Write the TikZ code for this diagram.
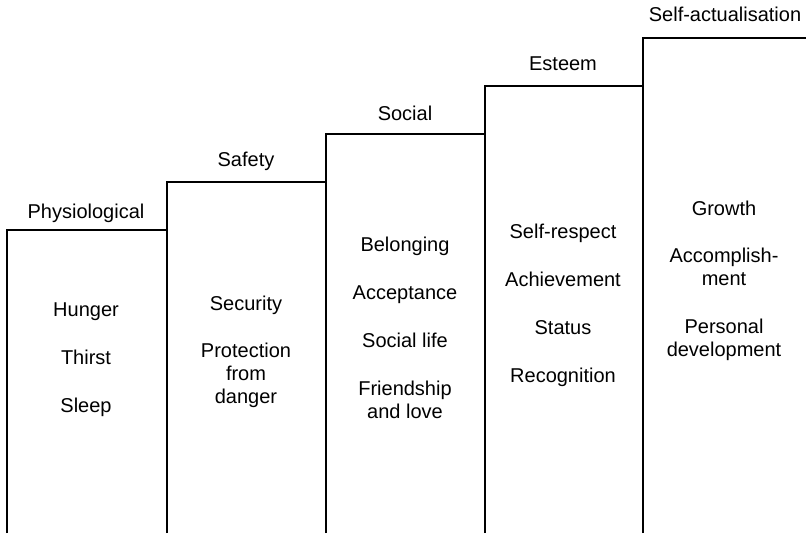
\documentclass[tikz,border=0pt]{standalone}
\usepackage{fontspec}
\setmainfont{Liberation Sans}
\begin{document}
\begin{tikzpicture}[x=0.75pt,y=-0.75pt,
  txt/.style={font=\fontsize{15}{17.25}\selectfont, align=center, inner sep=0pt,
    execute at begin node=\strut, execute at end node=\strut},
  stair/.style={line width=1pt, line join=miter}]
\useasboundingbox (0,0) rectangle (806,533);
% staircase outline
\draw[stair] (7,533) -- (7,230) -- (167,230) -- (167,182) -- (326,182) -- (326,134)
  -- (485,134) -- (485,86) -- (643,86) -- (643,38) -- (806,38);
\foreach \x/\t in {167/230,326/182,485/134,643/86}
  \draw[stair] (\x,533) -- (\x,\t);
% level labels
\node[txt] (l1) at (86,213.9) {Physiological};
\node[txt] (l2) at (246,161.4) {Safety};
\node[txt] (l3) at (405,115.4) {Social};
\node[txt] (l4) at (563,66.2) {Esteem};
\node[txt] (l5) at (725,17.1) {Self-actualisation};
% column 1
\node[txt] (a1) at (86,311.4) {Hunger};
\node[txt] (a2) at (86,359.4) {Thirst};
\node[txt] (a3) at (86,407.4) {Sleep};
% column 2
\node[txt] (b1) at (246,305.4) {Security};
\node[txt] (b2) at (246,376.6) {Protection\\from\\danger};
% column 3
\node[txt] (c1) at (405,247) {Belonging};
\node[txt] (c2) at (405,294.7) {Acceptance};
\node[txt] (c3) at (405,342.5) {Social life};
\node[txt] (c4) at (405,402.8) {Friendship\\and love};
% column 4
\node[txt] (d1) at (563,234.2) {Self-respect};
\node[txt] (d2) at (563,281.4) {Achievement};
\node[txt] (d3) at (563,329.4) {Status};
\node[txt] (d4) at (563,377.5) {Recognition};
% column 5
\node[txt] (e1) at (724,211) {Growth};
\node[txt] (e2) at (724,269.8) {Accomplish-\\ment};
\node[txt] (e3) at (724,341.2) {Personal\\development};
\end{tikzpicture}
\end{document}
